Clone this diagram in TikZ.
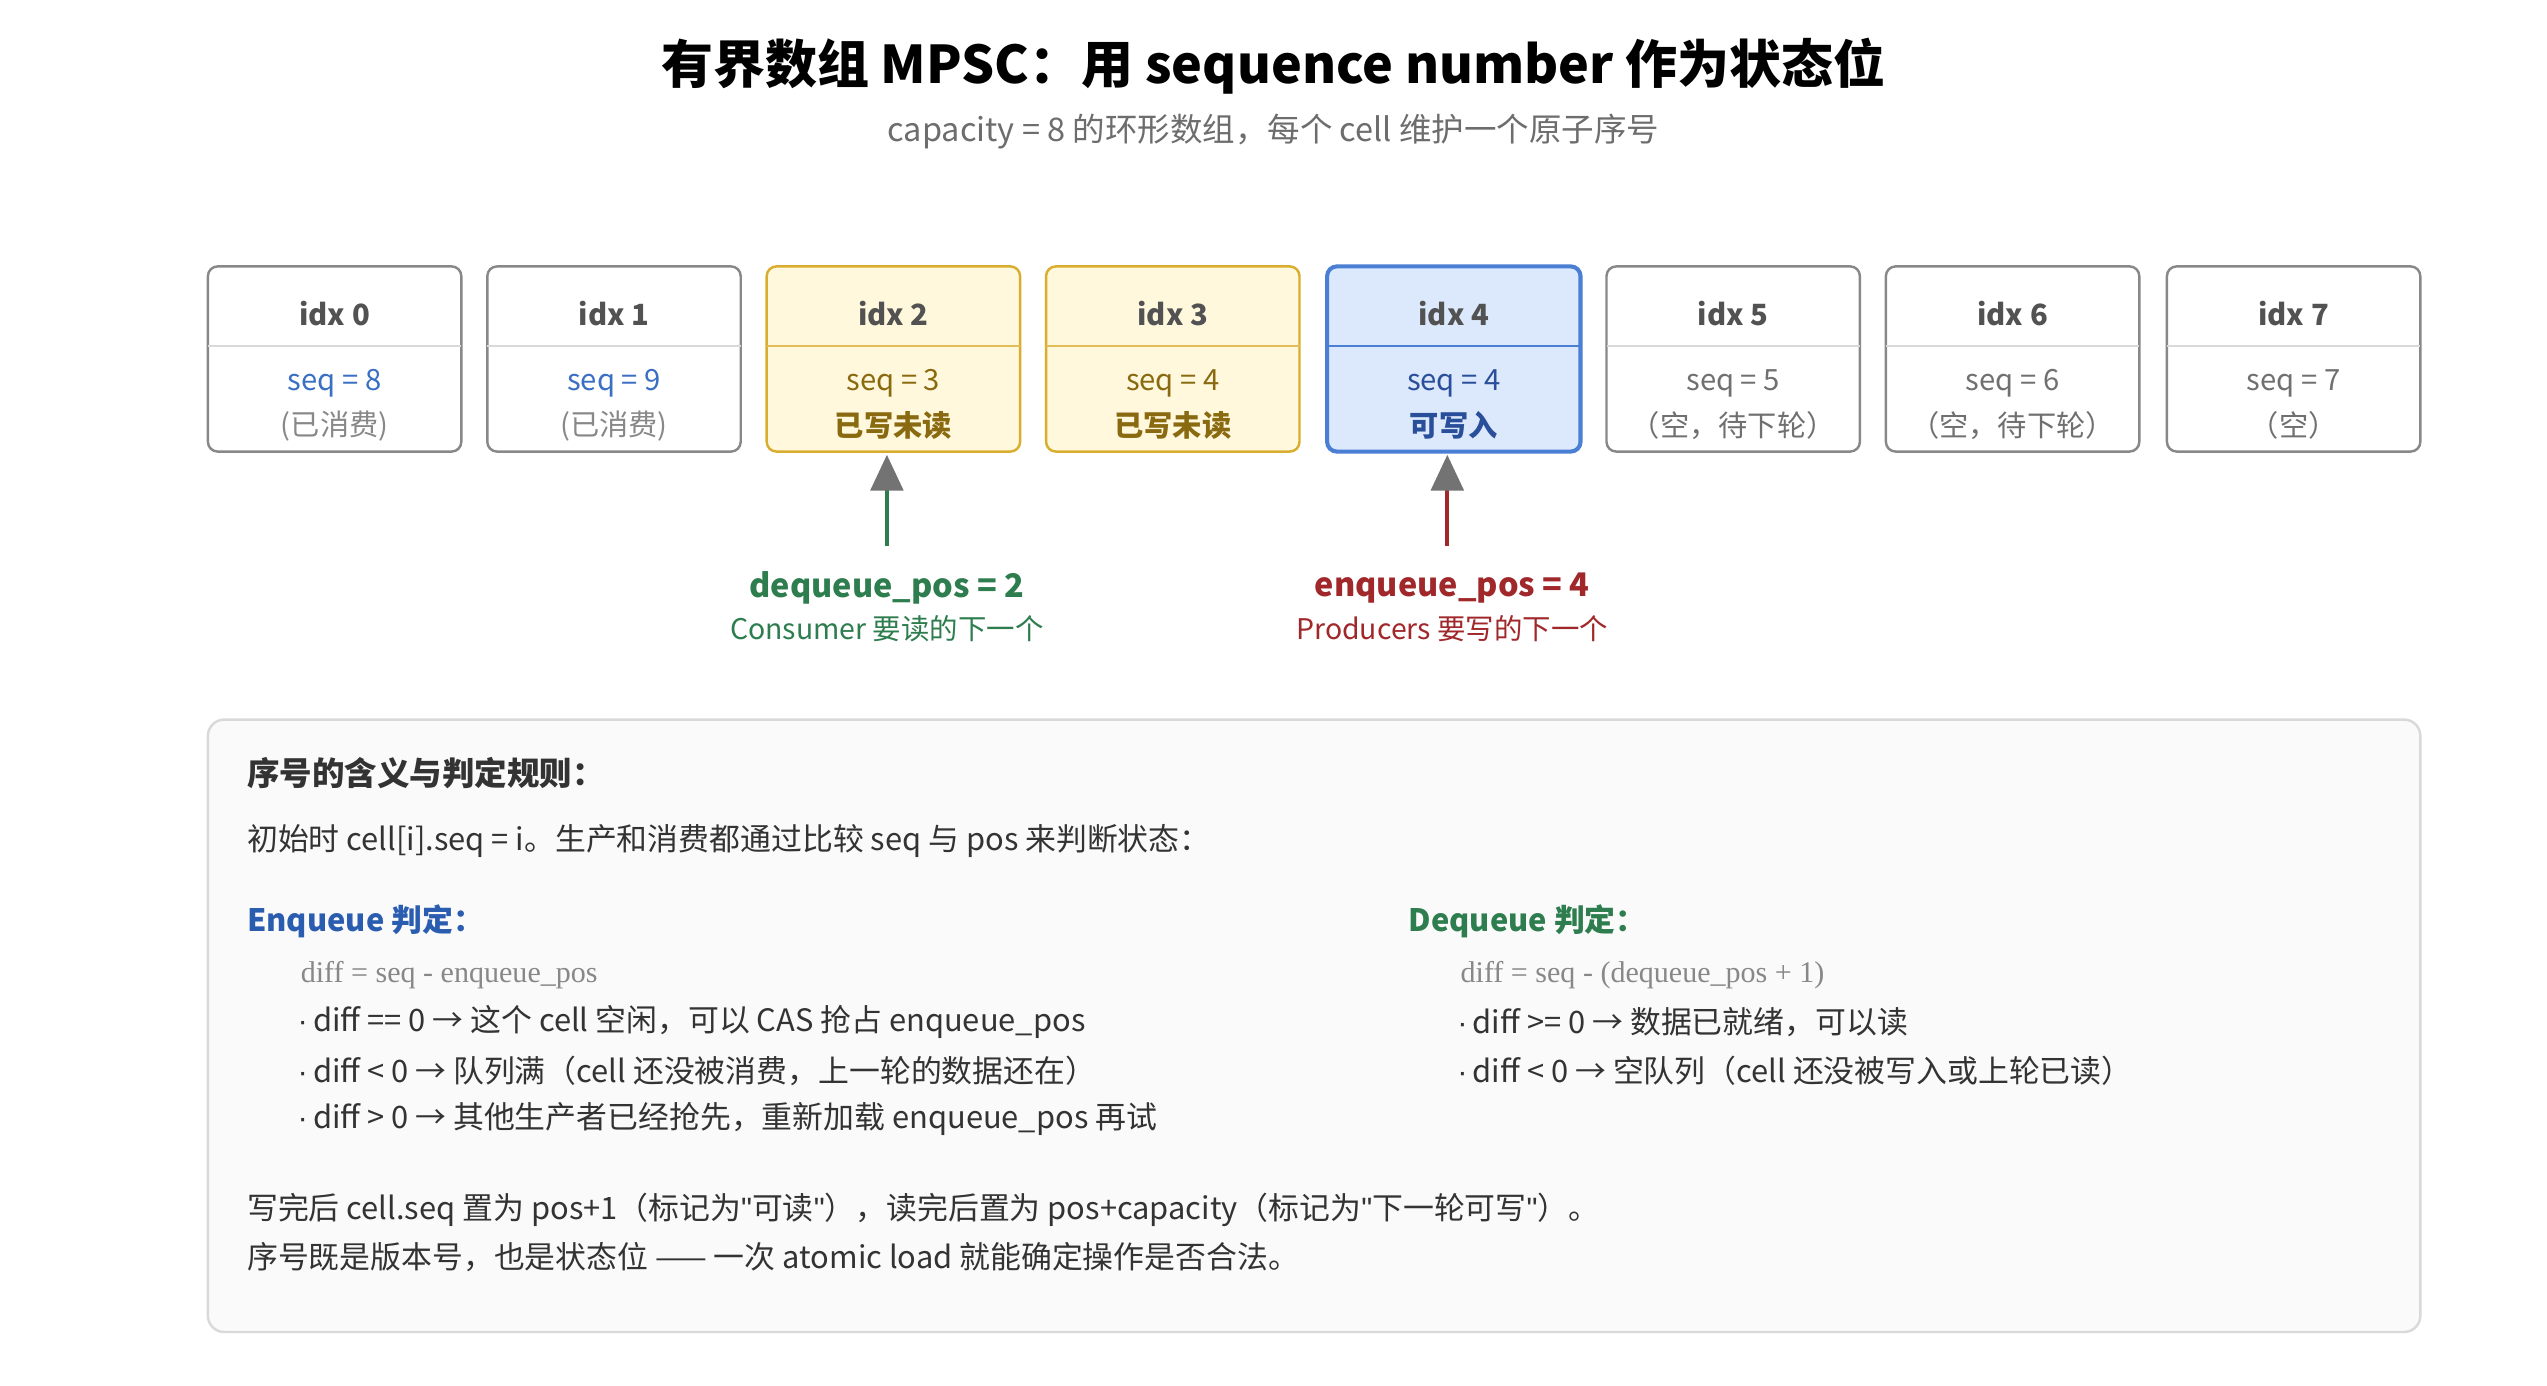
\documentclass[tikz,border=0pt]{standalone}
\usepackage{fontspec}
\setmainfont{Noto Sans CJK SC}
\newfontfamily\codefont{Liberation Serif}
\newfontfamily\dotfont[Ligatures=NoCommon]{Liberation Sans}
\usetikzlibrary{arrows.meta}
\definecolor{txt}{HTML}{333333}
\definecolor{gr}{HTML}{888888}
\definecolor{bl}{HTML}{3A6FC4}
\definecolor{yfill}{HTML}{FFF8DC}
\definecolor{yline}{HTML}{D9AE2E}
\definecolor{ytxt}{HTML}{8A6A10}
\definecolor{bfill}{HTML}{DCE8FB}
\definecolor{bline}{HTML}{4A7FD4}
\definecolor{btxt}{HTML}{2A4F9A}
\definecolor{grn}{HTML}{2E7D4F}
\definecolor{rd}{HTML}{A0282A}
\definecolor{hd}{HTML}{2A5DB0}
\newcommand{\bdot}{{\dotfont\textperiodcentered}\,}
\newcommand{\dq}{{\dotfont\symbol{34}}}
\begin{document}
\begin{tikzpicture}[x=1pt,y=-1pt,
  cellbox/.style={rounded corners=6pt,line width=1.5pt},
  lbl/.style={font=\fontsize{18}{20}\selectfont,inner sep=0},
  body/.style={font=\fontsize{19}{22}\selectfont,anchor=west,inner sep=0,text=txt},
  ptr/.style={line width=2.5pt,-{Triangle[length=22pt,width=20pt,fill=gray!90!black,color=gray!90!black]}}]
\useasboundingbox (0,0) rectangle (1568,853);
\fill[white] (0,0) rectangle (1568,853);
\node[font=\bfseries\fontsize{32}{36}\selectfont,text=black] (title) at (784,41) {有界数组 MPSC：用 sequence number 作为状态位};
\node[font=\fontsize{20}{24}\selectfont,text=gr!80!black] (sub) at (784,81) {capacity = 8 的环形数组，每个 cell 维护一个原子序号};
% cells
\foreach \i/\x/\f/\l/\dw/\s/\sc/\t/\tc/\tb in {
 0/128/white/gr/gray!30/8/bl/(已消费)/gr/0,
 1/300/white/gr/gray!30/9/bl/(已消费)/gr/0,
 2/472/yfill/yline/yline!80/3/ytxt/已写未读/ytxt/1,
 3/644/yfill/yline/yline!80/4/ytxt/已写未读/ytxt/1,
 4/817/bfill/bline/bline/4/btxt/可写入/btxt/1,
 5/989/white/gr/gray!30/5/txt!70/（空，待下轮）/txt!70/0,
 6/1161/white/gr/gray!30/6/txt!70/（空，待下轮）/txt!70/0,
 7/1334/white/gr/gray!30/7/txt!70/（空）/txt!70/0}{
  \ifnum\i=4
    \draw[cellbox,fill=\f,draw=\l,line width=2.5pt] (\x,164) rectangle ++(156,114);
  \else
    \draw[cellbox,fill=\f,draw=\l] (\x,164) rectangle ++(156,114);
  \fi
  \draw[\dw,line width=1.5pt] (\x,213) -- ++(156,0);
  \node[lbl,text=txt!85,font=\bfseries\fontsize{18}{20}\selectfont] (h\i) at (\x+78,193) {idx \i};
  \node[lbl,text=\sc] (s\i) at (\x+78,236) {seq = \s};
  \ifnum\tb=1
    \node[lbl,text=\tc,font=\bfseries\fontsize{18}{20}\selectfont] (t\i) at (\x+78,262) {\t};
  \else
    \node[lbl,text=\tc] (t\i) at (\x+78,262) {\t};
  \fi
  \coordinate (c\i) at (\x+74,280);
}
% pointers
\coordinate (dq) at (546,336);
\coordinate (eq) at (891,336);
\draw[ptr,grn] (dq) -- (c2);
\draw[ptr,rd] (eq) -- (c4);
\node[text=grn,font=\bfseries\fontsize{20}{22}\selectfont] (dql) at (546,362) {dequeue\_pos = 2};
\node[text=grn,font=\fontsize{17.5}{20}\selectfont] (dqs) at (546,387) {Consumer 要读的下一个};
\node[text=rd,font=\bfseries\fontsize{20}{22}\selectfont] (eql) at (894,362) {enqueue\_pos = 4};
\node[text=rd,font=\fontsize{17.5}{20}\selectfont] (eqs) at (894,387) {Producers 要写的下一个};
% panel
\draw[rounded corners=10pt,fill=gray!4,draw=gray!30,line width=1.5pt] (128,443) rectangle (1490,820);
\node[body,font=\bfseries\fontsize{20}{22}\selectfont] (ph) at (152,476) {序号的含义与判定规则：};
\node[body] (p1) at (152,518) {初始时 cell[i].seq = i。生产和消费都通过比较 seq 与 pos 来判断状态：};
\node[body,text=hd,font=\bfseries\fontsize{19}{22}\selectfont] (eh) at (152,567) {Enqueue 判定：};
\node[body,text=gr,font=\codefont\fontsize{18.5}{20}\selectfont] (ec) at (185,600) {diff = seq - enqueue\_pos};
\node[body] (e1) at (183,629) {\bdot diff == 0 → 这个 cell 空闲，可以 CAS 抢占 enqueue\_pos};
\node[body] (e2) at (183,659) {\bdot diff < 0 → 队列满（cell 还没被消费，上一轮的数据还在）};
\node[body] (e3) at (183,689) {\bdot diff > 0 → 其他生产者已经抢先，重新加载 enqueue\_pos 再试};
\node[body,text=grn,font=\bfseries\fontsize{19}{22}\selectfont] (dh) at (867,567) {Dequeue 判定：};
\node[body,text=gr,font=\codefont\fontsize{18.5}{20}\selectfont] (dc) at (899,600) {diff = seq - (dequeue\_pos + 1)};
\node[body] (d1) at (897,629) {\bdot diff >= 0 → 数据已就绪，可以读};
\node[body] (d2) at (897,659) {\bdot diff < 0 → 空队列（cell 还没被写入或上轮已读）};
\node[body] (f1) at (152,745) {写完后 cell.seq 置为 pos+1（标记为\dq 可读\dq），读完后置为 pos+capacity（标记为\dq 下一轮可写\dq）。};
\node[body] (f2) at (152,774) {序号既是版本号，也是状态位 —— 一次 atomic load 就能确定操作是否合法。};
\end{tikzpicture}
\end{document}
